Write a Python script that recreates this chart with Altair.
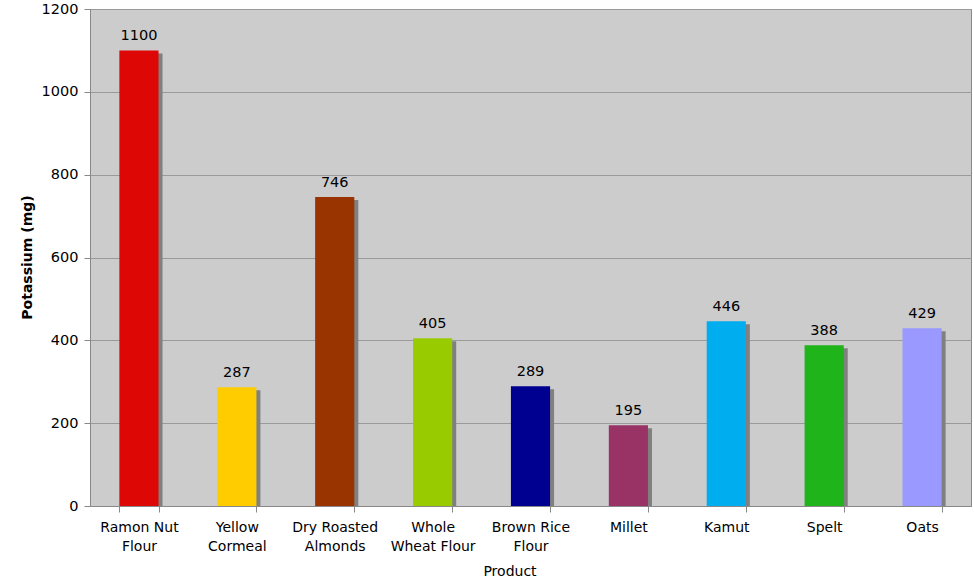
import altair as alt
import pandas as pd

# Potassium content per product
products = [
    "Ramon Nut Flour", "Yellow Cormeal", "Dry Roasted Almonds",
    "Whole Wheat Flour", "Brown Rice Flour", "Millet", "Kamut", "Spelt", "Oats",
]
label_lines = [
    ["Ramon Nut", "Flour"], ["Yellow", "Cormeal"], ["Dry Roasted", "Almonds"],
    ["Whole", "Wheat Flour"], ["Brown Rice", "Flour"], ["Millet"], ["Kamut"],
    ["Spelt"], ["Oats"],
]
potassium = [1100, 287, 746, 405, 289, 195, 446, 388, 429]
colors = [
    "#DD0806", "#FFCC00", "#993300", "#99CC00", "#000090",
    "#993366", "#00ADEF", "#1FB41A", "#9999FF",
]

df = pd.DataFrame({"Product": products, "Potassium": potassium})

# Multi-line x labels via a conditional expression
expr = "datum.value"
for name, lines in reversed(list(zip(products, label_lines))):
    arr = "[" + ",".join("'" + l + "'" for l in lines) + "]"
    expr = f"datum.value == '{name}' ? {arr} : ({expr})"

FONT = "DejaVu Sans"

x_enc = alt.X(
    "Product:N",
    sort=products,
    scale=alt.Scale(paddingInner=0.6, paddingOuter=0.3),
    axis=alt.Axis(
        title="Product",
        labelAngle=0,
        labelExpr=expr,
        labelFont=FONT,
        labelFontSize=14,
        labelColor="#000000",
        labelPadding=8,
        labelLineHeight=19,
        labelBaseline="top",
        tickBand="extent",
        tickSize=6,
        tickColor="#888888",
        domainColor="#888888",
        titleFont=FONT,
        titleFontSize=14,
        titleFontWeight="normal",
        titleColor="#000000",
        titleX=419.5,
        titleY=65,
        titleBaseline="middle",
    ),
)
y_scale = alt.Scale(domain=[0, 1200])
y_axis = alt.Axis(
    title="Potassium (mg)",
    values=[0, 200, 400, 600, 800, 1000, 1200],
    format="d",
    labelFont=FONT,
    labelFontSize=14.5,
    labelColor="#000000",
    labelPadding=6,
    tickSize=6,
    tickColor="#888888",
    domainColor="#888888",
    gridColor="#9A9A9A",
    titleFont=FONT,
    titleFontSize=14,
    titleFontWeight="bold",
    titleColor="#000000",
    titleAngle=-90,
    titleX=-63,
    titleY=248,
    titleBaseline="middle",
)

color_enc = alt.Color("Product:N", scale=alt.Scale(domain=products, range=colors), legend=None)

base = alt.Chart(df)

# Drop shadow: shifted right and down, but still resting on the baseline
shadow = base.mark_bar(color="#808080", xOffset=4, yOffset=3, y2Offset=0).encode(
    x=x_enc,
    y=alt.Y("Potassium:Q", scale=y_scale, axis=y_axis),
    y2=alt.datum(0),
)

bars = base.mark_bar().encode(
    x=alt.X("Product:N", sort=products),
    y=alt.Y("Potassium:Q", scale=y_scale),
    color=color_enc,
)

labels = base.mark_text(
    font=FONT, fontSize=14.5, color="#000000", baseline="bottom", dy=-7
).encode(
    x=alt.X("Product:N", sort=products),
    y=alt.Y("Potassium:Q", scale=y_scale),
    text=alt.Text("Potassium:Q"),
)

chart = (
    alt.layer(shadow, bars, labels)
    .properties(
        width=881,
        height=497,
        background="#FFFFFF",
        padding={"left": 90, "top": 9, "right": 3, "bottom": 77},
        autosize=alt.AutoSizeParams(type="none"),
    )
    .configure_view(fill="#CCCCCC", stroke="#888888", strokeWidth=1)
)

chart.save("out.html", embed_options={"renderer": "svg", "actions": False})
